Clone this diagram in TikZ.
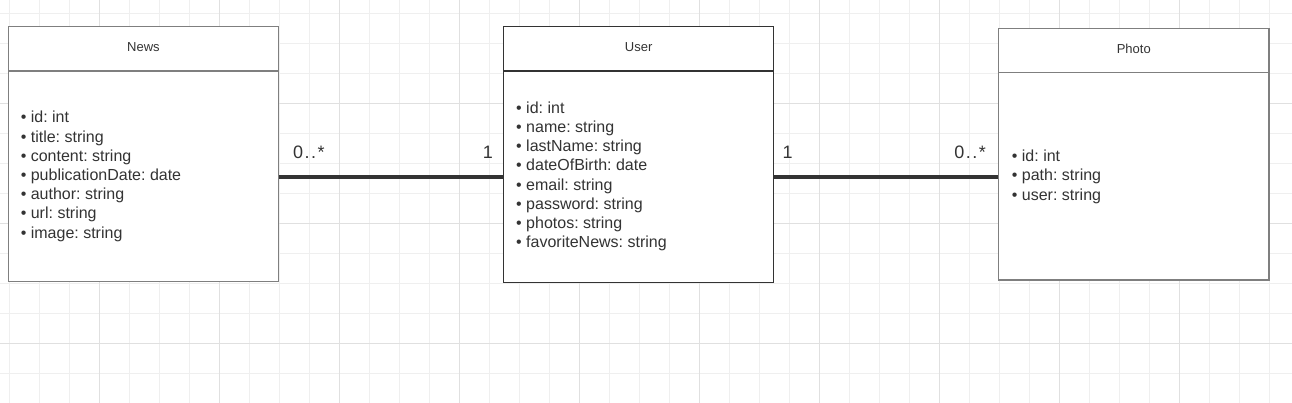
\documentclass[tikz,border=0pt]{standalone}
\usepackage{fontspec}
\setmainfont{Liberation Sans}
\definecolor{gridminor}{HTML}{EFEFEF}
\definecolor{gridmajor}{HTML}{E0E0E0}
\definecolor{txt}{HTML}{333333}
\definecolor{boxgray}{HTML}{7F7F7F}
\definecolor{boxdark}{HTML}{333333}
\frenchspacing
\begin{document}
\begin{tikzpicture}[x=1pt,y=-1pt,
  classhead/.style={draw=#1, fill=white, line width=1.1pt, inner sep=0pt, text=txt,
    font=\fontsize{13}{15}\selectfont, text depth=4pt},
  classbody/.style={draw=#1, fill=white, line width=1.1pt, inner sep=0pt},
  attr/.style={anchor=base west, inner sep=0pt, text=txt, font=\fontsize{16}{19.2}\selectfont\frenchspacing},
  mult/.style={inner sep=0pt, text=txt, font=\fontsize{18}{20}\selectfont\addfontfeature{LetterSpace=8}},
  assoc/.style={draw=txt, line width=4pt}]
\useasboundingbox (0,0) rectangle (1292,403);
\fill[white] (0,0) rectangle (1292,403);
% grid
\foreach \x in {9.5,39.5,...,1290} \draw[gridminor, line width=1pt] (\x,0) -- (\x,403);
\foreach \y in {13.5,43.5,...,403} \draw[gridminor, line width=1pt] (0,\y) -- (1292,\y);
\foreach \x in {99.5,219.5,...,1290} \draw[gridmajor, line width=1pt] (\x,0) -- (\x,403);
\foreach \y in {103.5,223.5,343.5} \draw[gridmajor, line width=1pt] (0,\y) -- (1292,\y);

% News
\node[classbody=boxgray, minimum width=270pt, minimum height=210pt] (newsbody) at (143.5,176.5) {};
\node[classhead=boxgray, minimum width=270pt, minimum height=44.3pt] (newshead) at (143.5,48.85) {News};
% User
\node[classbody=boxdark, minimum width=270.2pt, minimum height=211.3pt] (userbody) at (638.6,176.65) {};
\node[classhead=boxdark, minimum width=270.2pt, minimum height=44.3pt] (userhead) at (638.6,48.85) {User};
% Photo
\node[classbody=boxgray, minimum width=270.5pt, minimum height=207.3pt] (photobody) at (1133.75,176.35) {};
\node[classhead=boxgray, minimum width=270.5pt, minimum height=44.4pt] (photohead) at (1133.75,50.5) {Photo};

% attributes
\foreach \t [count=\i from 0] in {id: int, title: string, content: string, publicationDate: date, author: string, url: string, image: string}
  \node[attr] (na\i) at (20.6, 123+19.2*\i) {•\ \t};
\foreach \t [count=\i from 0] in {id: int, name: string, lastName: string, dateOfBirth: date, email: string, password: string, photos: string, favoriteNews: string}
  \node[attr] (ua\i) at (516, 113.3+19.2*\i) {•\ \t};
\foreach \t [count=\i from 0] in {id: int, path: string, user: string}
  \node[attr] (pa\i) at (1011.7, 161.7+19.2*\i) {•\ \t};

% associations
\draw[assoc] (userbody.west -| newsbody.east) -- (userbody.west);
\draw[assoc] (userbody.east) -- (userbody.east -| photobody.west);

% multiplicities
\node[mult, anchor=west] (m1) at (293,152) {0..*};
\node[mult, anchor=east] (m2) at (493,152) {1};
\node[mult, anchor=west] (m3) at (782.5,152) {1};
\node[mult, anchor=east] (m4) at (986,152) {0..*};
\end{tikzpicture}
\end{document}
